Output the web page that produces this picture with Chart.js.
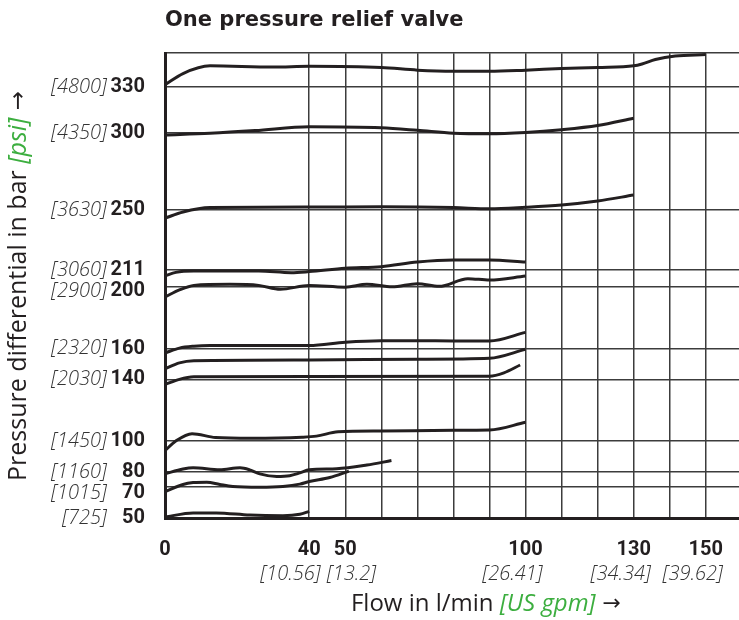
<!DOCTYPE html>
<html>
<head>
<meta charset="utf-8">
<script src="https://cdn.jsdelivr.net/npm/chart.js@4.4.1/dist/chart.umd.min.js"></script>
<style>
  html, body { margin: 0; padding: 0; background: #fff; }
  #wrap { width: 739px; height: 620px; position: relative; }
</style>
</head>
<body>
<div id="wrap"><canvas id="chart-valve"></canvas></div>
<script>
// Eixos - valores e rótulos
const yTicks = [50, 70, 80, 100, 140, 160, 200, 211, 250, 300, 330];
const yPsi = ['[725]', '[1015]', '[1160]', '[1450]', '[2030]', '[2320]', '[2900]', '[3060]', '[3630]', '[4350]', '[4800]'];
const xTicks = [0, 40, 50, 100, 130, 150];
const xGpm = ['', '[10.56]', '[13.2]', '[26.41]', '[34.34]', '[39.62]'];
const xGrid = [40, 50, 60, 70, 80, 90, 100, 110, 120, 130, 140, 150];

// Curvas (vazão l/min -> pressão bar)
const flow_330 = [0, 5, 12.5, 30, 40, 60, 70, 80, 90, 100, 110, 120, 130, 132.3, 136, 141.5, 150];
const dp_330 = [331.5, 338.8, 343.8, 343, 343.5, 342.7, 341, 340.3, 340.3, 341, 342, 342.7, 343.8, 345, 347.9, 350.2, 351.1];

const flow_300 = [0, 12.5, 25, 40, 60, 70, 80, 90, 100, 110, 120, 130];
const dp_300 = [298.9, 300, 301.7, 304.2, 303.5, 301.9, 300, 299.6, 300.5, 302.3, 305, 309.7];

const flow_250 = [0, 5, 12.5, 40, 60, 80, 90, 100, 110, 120, 130];
const dp_250 = [244.8, 248.8, 251.7, 252, 252.2, 251.7, 250.9, 251.9, 253.4, 256, 259.8];

const flow_211 = [0, 3, 8, 26, 35, 40, 50, 60, 70, 80, 90, 100];
const dp_211 = [207.3, 209.6, 210.5, 210.5, 209.4, 210.1, 212.3, 213.3, 216.3, 217.6, 217.6, 216.3];

const flow_200 = [0, 4, 8, 18, 26, 32, 40, 50, 56, 63, 70, 76, 84, 90, 100];
const dp_200 = [193.6, 198.2, 201.1, 201.8, 201.1, 198.6, 201.1, 200, 201.8, 200.2, 202.2, 200.5, 205.5, 204.6, 207.2];

const flow_160 = [0, 4, 8, 12.5, 40, 50, 60, 70, 80, 90, 100];
const dp_160 = [157.2, 160.4, 161.6, 162, 162, 164.2, 165.2, 165.2, 165, 165, 170.6];

const flow_150 = [0, 4, 8, 40, 70, 90, 100];
const dp_150 = [146.9, 150.8, 152.2, 152.7, 153.2, 153.8, 159.6];

const flow_140 = [0, 4, 8, 40, 90, 94, 98.5];
const dp_140 = [136.7, 140.1, 141.7, 141.9, 142.1, 144.3, 149.4];

const flow_100 = [0, 3, 7.5, 14, 24, 38, 42, 48, 60, 80, 90, 100];
const dp_100 = [93.8, 100, 104.8, 102.3, 101.8, 102.5, 103.2, 106, 106.5, 107, 107.2, 112.2];

const flow_80 = [0, 5, 7.8, 15.2, 20.8, 23.5, 26.3, 31, 34.6, 37.4, 40, 47.6, 56, 62.8];
const dp_80 = [78.7, 81.8, 82.6, 81.3, 82.6, 81.3, 78.7, 77, 77.5, 79.3, 81.3, 82, 84.4, 87.3];

const flow_70 = [0, 5, 7.8, 11.6, 15.2, 18.8, 26.3, 32.7, 37.4, 40, 45.7, 51];
const dp_70 = [67.2, 71.8, 73, 73.3, 71.8, 70.5, 70, 70.5, 72, 73.7, 76.3, 80.5];

const flow_50 = [0, 7.8, 14.2, 23.5, 32.7, 37.4, 40];
const dp_50 = [50.6, 53.3, 53.3, 51.9, 51.5, 52.4, 54.3];

const curvas = [
  [flow_330, dp_330], [flow_300, dp_300], [flow_250, dp_250], [flow_211, dp_211],
  [flow_200, dp_200], [flow_160, dp_160], [flow_150, dp_150], [flow_140, dp_140],
  [flow_100, dp_100], [flow_80, dp_80], [flow_70, dp_70], [flow_50, dp_50]
];

function pontos(xs, ys) {
  return xs.map((x, i) => ({ x: x, y: ys[i] }));
}

const INK = '#231f20';
const GREEN = '#3cae3f';

function drawParts(ctx, parts, x, y) {
  let total = 0;
  parts.forEach(p => { ctx.font = p[1]; total += ctx.measureText(p[0]).width; });
  let cx = x - total / 2;
  parts.forEach(p => {
    ctx.font = p[1];
    ctx.fillStyle = p[2];
    ctx.fillText(p[0], cx, y);
    cx += ctx.measureText(p[0]).width;
  });
}

// Rótulos com duas fontes (bar + psi / l/min + gpm)
const rotulos = {
  id: 'rotulos',
  afterDraw(chart) {
    const ctx = chart.ctx;
    const xs = chart.scales.x, ys = chart.scales.y;
    const area = chart.chartArea;
    ctx.save();
    ctx.textBaseline = 'middle';

    // eixo y
    let prev = -Infinity;
    for (let i = yTicks.length - 1; i >= 0; i--) {
      let py = ys.getPixelForValue(yTicks[i]);
      if (py < prev + 21) py = prev + 21;
      prev = py;
      ctx.textAlign = 'right';
      ctx.font = 'bold 20px Roboto';
      ctx.fillStyle = INK;
      ctx.fillText(String(yTicks[i]), area.left - 20, py);
      ctx.font = 'italic 300 20px "Open Sans"';
      ctx.fillStyle = '#333';
      ctx.fillText(yPsi[i], area.left - 58, py);
    }

    // eixo x
    let prevRight = -Infinity;
    xTicks.forEach((v, i) => {
      const px = xs.getPixelForValue(v);
      ctx.textAlign = 'center';
      ctx.font = 'bold 20px Roboto';
      ctx.fillStyle = INK;
      ctx.fillText(String(v), px, area.bottom + 32);
      const w = ctx.measureText(String(v)).width;
      if (xGpm[i]) {
        ctx.font = 'italic 300 20px "Open Sans"';
        ctx.fillStyle = '#333';
        const bw = ctx.measureText(xGpm[i]).width;
        let right = px + w / 2;
        if (right - bw < prevRight + 6) right = prevRight + 6 + bw;
        ctx.textAlign = 'right';
        ctx.fillText(xGpm[i], right, area.bottom + 56);
        prevRight = right;
      }
    });

    // títulos dos eixos
    ctx.textAlign = 'left';
    drawParts(ctx, [
      ['Flow in l/min ', '24px "Open Sans"', INK],
      ['[US gpm]', 'italic 24px "Open Sans"', GREEN],
      [' \u2192', '22px "DejaVu Sans"', INK]
    ], 486, 604);

    ctx.translate(19, 286);
    ctx.rotate(-Math.PI / 2);
    drawParts(ctx, [
      ['Pressure differential in bar ', '25px "Open Sans"', INK],
      ['[psi]', 'italic 25px "Open Sans"', GREEN],
      [' \u2192', '23px "DejaVu Sans"', INK]
    ], 0, 0);
    ctx.restore();
  }
};

const config_valve = {
  type: 'line',
  data: {
    datasets: curvas.map(c => ({
      data: pontos(c[0], c[1]),
      borderColor: INK,
      borderWidth: 3,
      pointRadius: 0,
      fill: false,
      cubicInterpolationMode: 'monotone',
      clip: false
    }))
  },
  options: {
    responsive: true,
    maintainAspectRatio: false,
    animation: false,
    events: [],
    layout: { padding: 0 },
    scales: {
      x: {
        type: 'linear',
        min: 0,
        max: 159.2,
        afterBuildTicks: s => { s.ticks = xGrid.map(v => ({ value: v })); },
        afterFit: s => { s.height = 102; },
        ticks: { display: false },
        grid: { color: '#3c3c3c', lineWidth: 1.5, drawTicks: false },
        border: { color: INK, width: 3 }
      },
      y: {
        type: 'linear',
        min: 50,
        max: 352,
        afterBuildTicks: s => { s.ticks = yTicks.concat([352]).map(v => ({ value: v })); },
        afterFit: s => { s.width = 165; },
        ticks: { display: false },
        grid: { color: '#3c3c3c', lineWidth: 1.5, drawTicks: false },
        border: { color: INK, width: 3 }
      }
    },
    plugins: {
      legend: { display: false },
      tooltip: { enabled: false },
      title: {
        display: true,
        text: 'One pressure relief valve',
        align: 'start',
        fullSize: false,
        color: INK,
        padding: { top: 8, bottom: 20 },
        font: { family: 'DejaVu Sans', size: 21, weight: 'bold', lineHeight: 1.2 }
      }
    }
  },
  plugins: [rotulos]
};

const myChart_valve = new Chart(document.getElementById('chart-valve'), config_valve);
</script>
</body>
</html>
